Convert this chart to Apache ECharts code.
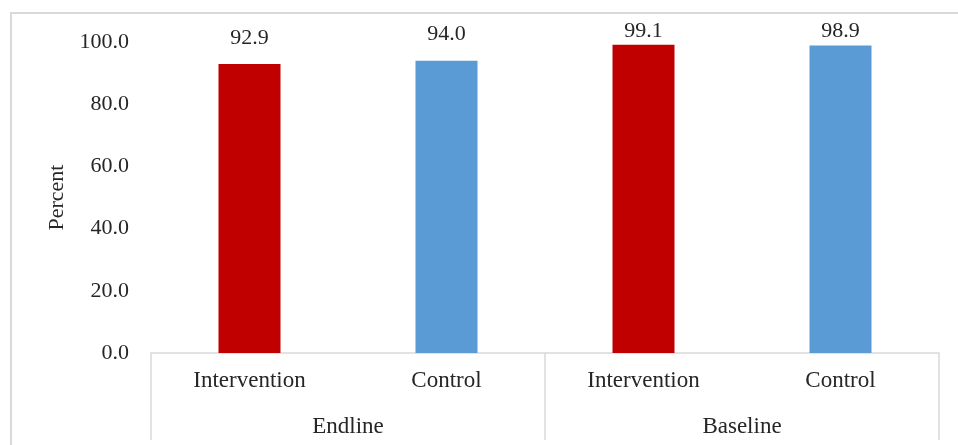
<!DOCTYPE html>
<html>
<head>
<meta charset="utf-8">
<script src="https://cdn.jsdelivr.net/npm/echarts@6/dist/echarts.min.js"></script>
<style>
  html, body { margin: 0; padding: 0; background: #fff; }
  #chart { width: 958px; height: 445px; }
</style>
</head>
<body>
<div id="chart"></div>
<script>
// Survey rounds and study arms
const rounds = ['Endline', 'Baseline'];
const arms = ['Intervention', 'Control', 'Intervention', 'Control'];
// Percent per arm, in the same order as `arms`
const percentValues = [92.9, 94.0, 99.1, 98.9];
// Y-axis scale
const yMin = 0;
const yMax = 100;
const yStep = 20;

const FONT = '"Liberation Serif", "DejaVu Serif", serif';
const TEXT = '#262626';
const RULE = '#d9d9d9';
const armColors = { Intervention: '#C00000', Control: '#5B9BD5' };

const chart = echarts.init(document.getElementById('chart'));

const barData = percentValues.map((v, i) => ({
  value: v,
  itemStyle: { color: armColors[arms[i]] },
  // labels near the top of the plot are nudged closer to their bars
  label: { distance: v > 97 ? 3 : 15 }
}));

chart.setOption({
  animation: false,
  textStyle: { fontFamily: FONT, color: TEXT },
  graphic: [{
    type: 'rect',
    shape: { x: 11, y: 13, width: 980, height: 480 },
    style: { fill: 'none', stroke: RULE, lineWidth: 2 },
    silent: true
  }],
  grid: { left: 151, right: 19, top: 42, bottom: 92, containLabel: false },
  xAxis: [
    {
      type: 'category',
      data: arms,
      axisLine: { show: true, lineStyle: { color: RULE, width: 1.5 } },
      axisTick: { show: false },
      axisLabel: { fontFamily: FONT, fontSize: 23, color: TEXT, margin: 16, interval: 0 }
    },
    {
      type: 'category',
      data: rounds,
      position: 'bottom',
      gridIndex: 0,
      axisLine: { show: false },
      axisTick: { show: true, length: 87, lineStyle: { color: RULE, width: 1.5 } },
      axisLabel: { fontFamily: FONT, fontSize: 23, color: TEXT, margin: 62 },
      splitLine: { show: false }
    }
  ],
  yAxis: {
    type: 'value',
    min: yMin,
    max: yMax,
    interval: yStep,
    name: 'Percent',
    nameLocation: 'middle',
    nameGap: 82,
    nameRotate: 90,
    nameTextStyle: { fontFamily: FONT, fontSize: 22, color: TEXT },
    axisLine: { show: false },
    axisTick: { show: false },
    splitLine: { show: false },
    axisLabel: {
      fontFamily: FONT, fontSize: 22, color: TEXT, margin: 22,
      formatter: v => v.toFixed(1)
    }
  },
  series: [{
    type: 'bar',
    xAxisIndex: 0,
    data: barData,
    barWidth: 62,
    label: {
      show: true,
      position: 'top',
      fontFamily: FONT,
      fontSize: 22,
      color: TEXT,
      formatter: p => p.value.toFixed(1)
    }
  }]
});
</script>
</body>
</html>
